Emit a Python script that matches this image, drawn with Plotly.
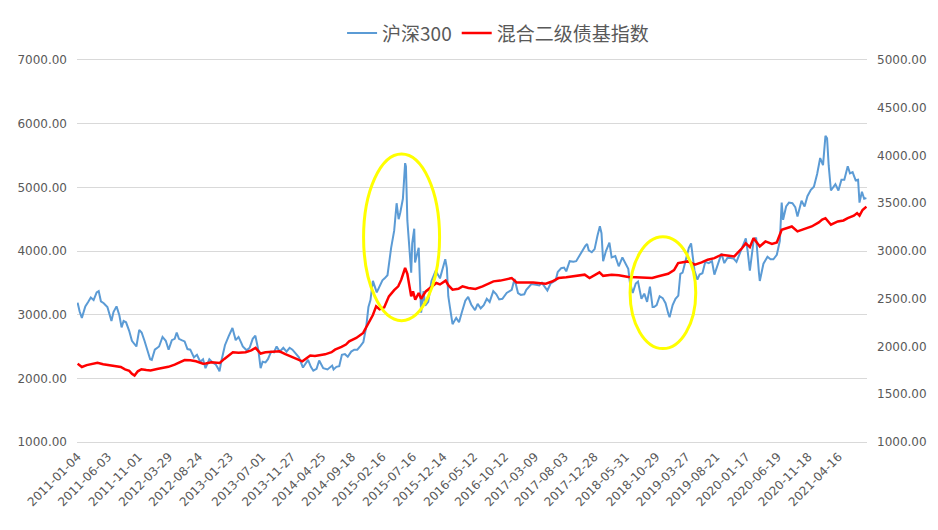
import plotly.graph_objects as go

# ---- data ----
hs300_dates = [
    "2011-01-04", "2011-01-14", "2011-01-25", "2011-02-11", "2011-02-25", "2011-03-10", "2011-03-24",
    "2011-04-08", "2011-04-18", "2011-04-29", "2011-05-13", "2011-05-31", "2011-06-20", "2011-06-30",
    "2011-07-15", "2011-07-29", "2011-08-09", "2011-08-19", "2011-08-31", "2011-09-15", "2011-09-29",
    "2011-10-21", "2011-11-04", "2011-11-16", "2011-11-30", "2011-12-15", "2011-12-28",
    "2012-01-05", "2012-01-20", "2012-02-10", "2012-02-27", "2012-03-14", "2012-03-28", "2012-04-13",
    "2012-04-27", "2012-05-07", "2012-05-18", "2012-05-31", "2012-06-15", "2012-06-29", "2012-07-13",
    "2012-07-31", "2012-08-15", "2012-08-31", "2012-09-14", "2012-09-26", "2012-10-15", "2012-10-31",
    "2012-11-15", "2012-11-30", "2012-12-04", "2012-12-14", "2012-12-31",
    "2013-01-18", "2013-02-06", "2013-02-22", "2013-03-08", "2013-03-21", "2013-03-29", "2013-04-17",
    "2013-05-02", "2013-05-17", "2013-05-30", "2013-06-14", "2013-06-25", "2013-07-05", "2013-07-19",
    "2013-07-31", "2013-08-16", "2013-08-30", "2013-09-12", "2013-09-27", "2013-10-15", "2013-10-31",
    "2013-11-15", "2013-11-29", "2013-12-13", "2013-12-31",
    "2014-01-20", "2014-02-14", "2014-02-28", "2014-03-12", "2014-03-28", "2014-04-10", "2014-04-30",
    "2014-05-21", "2014-06-13", "2014-06-20", "2014-07-04", "2014-07-18", "2014-07-31", "2014-08-15",
    "2014-08-29", "2014-09-15", "2014-09-30", "2014-10-15", "2014-10-31", "2014-11-14", "2014-11-28",
    "2014-12-09", "2014-12-19", "2014-12-31",
    "2015-01-19", "2015-01-30", "2015-02-16", "2015-02-27", "2015-03-13", "2015-03-31", "2015-04-15",
    "2015-04-27", "2015-05-07", "2015-05-15", "2015-05-28", "2015-06-08", "2015-06-12", "2015-06-19",
    "2015-06-26", "2015-07-08", "2015-07-13", "2015-07-23", "2015-07-27", "2015-08-05", "2015-08-14",
    "2015-08-26", "2015-09-07", "2015-09-15", "2015-09-30", "2015-10-16", "2015-11-06", "2015-11-27",
    "2015-12-23", "2015-12-31",
    "2016-01-07", "2016-01-15", "2016-01-28", "2016-02-15", "2016-02-29", "2016-03-15", "2016-03-31",
    "2016-04-14", "2016-04-29", "2016-05-18", "2016-05-31", "2016-06-15", "2016-06-30", "2016-07-15",
    "2016-07-29", "2016-08-16", "2016-08-31", "2016-09-14", "2016-09-30", "2016-10-21", "2016-11-15",
    "2016-11-29", "2016-12-16", "2016-12-30",
    "2017-01-16", "2017-01-26", "2017-02-20", "2017-03-15", "2017-03-31", "2017-04-13", "2017-04-28",
    "2017-05-10", "2017-05-26", "2017-06-20", "2017-06-30", "2017-07-17", "2017-07-31", "2017-08-11",
    "2017-08-28", "2017-09-15", "2017-09-29", "2017-10-16", "2017-10-31", "2017-11-13", "2017-11-22",
    "2017-11-30", "2017-12-15", "2017-12-29",
    "2018-01-12", "2018-01-24", "2018-02-01", "2018-02-09", "2018-02-23", "2018-03-12", "2018-03-23",
    "2018-04-10", "2018-04-27", "2018-05-15", "2018-05-31", "2018-06-13", "2018-06-21", "2018-07-05",
    "2018-07-20", "2018-07-31", "2018-08-17", "2018-08-31", "2018-09-14", "2018-09-28", "2018-10-11",
    "2018-10-18", "2018-10-31", "2018-11-15", "2018-11-30", "2018-12-14", "2018-12-28",
    "2019-01-03", "2019-01-18", "2019-02-01", "2019-02-15", "2019-02-25", "2019-03-08", "2019-03-22",
    "2019-04-08", "2019-04-19", "2019-05-06", "2019-05-20", "2019-05-31", "2019-06-14", "2019-06-28",
    "2019-07-15", "2019-07-31", "2019-08-12", "2019-08-30", "2019-09-16", "2019-09-30", "2019-10-15",
    "2019-10-31", "2019-11-15", "2019-11-29", "2019-12-13", "2019-12-31",
    "2020-01-14", "2020-01-23", "2020-02-03", "2020-02-21", "2020-03-05", "2020-03-19", "2020-03-23",
    "2020-04-10", "2020-04-30", "2020-05-15", "2020-05-29", "2020-06-15", "2020-06-30", "2020-07-09",
    "2020-07-16", "2020-07-31", "2020-08-14", "2020-08-31", "2020-09-14", "2020-09-25", "2020-10-15",
    "2020-10-30", "2020-11-13", "2020-11-30", "2020-12-15", "2020-12-31",
    "2021-01-15", "2021-01-29", "2021-02-10", "2021-02-18", "2021-02-26", "2021-03-09", "2021-03-19",
    "2021-03-31", "2021-04-15", "2021-04-30", "2021-05-14", "2021-05-31", "2021-06-11", "2021-06-24",
    "2021-07-09", "2021-07-21", "2021-07-28", "2021-08-09", "2021-08-20", "2021-08-31",
]
hs300_values = [
    3189, 3050, 2950, 3130, 3200, 3270, 3230,
    3350, 3370, 3210, 3180, 3120, 2900, 3040,
    3130, 2990, 2800, 2900, 2880, 2750, 2590,
    2500, 2760, 2720, 2590, 2420, 2300,
    2290, 2450, 2500, 2650, 2590, 2450, 2600,
    2620, 2720, 2620, 2600, 2580, 2460, 2450,
    2330, 2370, 2260, 2300, 2160, 2300, 2250,
    2220, 2140, 2110, 2280, 2520,
    2660, 2790, 2600, 2650, 2560, 2500, 2440,
    2480, 2620, 2670, 2440, 2160, 2260, 2250,
    2300, 2420, 2410, 2500, 2420, 2480, 2420,
    2480, 2450, 2400, 2330,
    2170, 2290, 2180, 2120, 2150, 2280, 2160,
    2140, 2200, 2140, 2180, 2190, 2370, 2380,
    2340, 2420, 2450, 2450, 2510, 2570, 2810,
    3120, 3230, 3530,
    3350, 3430, 3540, 3570, 3620, 4050, 4320,
    4750, 4500, 4600, 4820, 5380, 5330, 4480,
    4190, 3660, 4120, 4350, 3820, 3930, 4050,
    3030, 3370, 3140, 3200, 3530, 3690, 3570,
    3870, 3731,
    3290, 3120, 2850, 2950, 2880, 3050, 3220,
    3280, 3160, 3070, 3170, 3100, 3150, 3250,
    3200, 3370, 3320, 3240, 3250, 3340, 3390,
    3560, 3340, 3310,
    3320, 3390, 3480, 3470, 3460, 3500, 3440,
    3380, 3490, 3540, 3670, 3730, 3740, 3680,
    3840, 3830, 3840, 3940, 4010, 4080, 4110,
    4010, 3980, 4030,
    4240, 4390, 4280, 3840, 4000, 4130, 3900,
    3920, 3760, 3900, 3800, 3720, 3510, 3340,
    3490, 3520, 3250, 3330, 3200, 3440, 3120,
    3120, 3150, 3290, 3260, 3180, 3010,
    2960, 3150, 3250, 3300, 3640, 3660, 3830,
    4050, 4120, 3690, 3550, 3630, 3650, 3830,
    3810, 3840, 3630, 3800, 3960, 3810, 3890,
    3890, 3880, 3830, 3950, 4100,
    4200, 4000, 3690, 4150, 4210, 3650, 3530,
    3800, 3910, 3870, 3870, 3940, 4160, 4760,
    4490, 4700, 4760, 4750, 4690, 4540, 4790,
    4700, 4860, 4960, 5010, 5210,
    5460, 5350, 5810, 5770, 5340, 4950, 5000,
    5050, 4950, 5120, 5120, 5330, 5220, 5240,
    5110, 5120, 4760, 4930, 4820, 4830,
]

bond_dates = [
    "2011-01-04", "2011-01-14", "2011-01-25", "2011-02-18", "2011-03-15", "2011-04-12", "2011-05-10",
    "2011-06-10", "2011-07-08", "2011-08-05", "2011-08-26", "2011-09-16", "2011-09-29", "2011-10-12",
    "2011-10-28", "2011-11-15", "2011-12-09", "2011-12-30",
    "2012-01-31", "2012-02-28", "2012-03-27", "2012-04-27", "2012-05-25", "2012-06-15", "2012-07-13",
    "2012-08-10", "2012-09-14", "2012-09-27", "2012-10-25", "2012-11-20", "2012-12-05", "2012-12-28",
    "2013-01-18", "2013-02-08", "2013-03-08", "2013-04-12", "2013-05-10", "2013-05-31", "2013-06-25",
    "2013-07-19", "2013-08-23", "2013-09-26", "2013-10-25", "2013-11-22", "2013-12-10",
    "2014-01-03", "2014-01-17", "2014-02-25", "2014-03-20", "2014-04-18", "2014-05-09", "2014-06-10",
    "2014-06-27", "2014-07-29", "2014-08-20", "2014-09-05", "2014-10-10", "2014-11-13", "2014-12-12",
    "2014-12-31",
    "2015-01-16", "2015-02-02", "2015-02-25", "2015-03-20", "2015-04-15", "2015-05-05", "2015-05-20",
    "2015-06-08", "2015-06-19", "2015-07-08", "2015-07-17", "2015-07-28", "2015-08-14", "2015-08-26",
    "2015-09-18", "2015-10-16", "2015-11-09", "2015-11-27", "2015-12-25",
    "2016-01-08", "2016-01-28", "2016-02-26", "2016-03-17", "2016-04-15", "2016-05-20", "2016-06-24",
    "2016-07-22", "2016-08-17", "2016-09-20", "2016-10-21", "2016-11-15", "2016-12-09", "2016-12-30",
    "2017-01-26", "2017-03-01", "2017-04-07", "2017-05-02", "2017-06-02", "2017-07-04", "2017-08-11",
    "2017-09-25", "2017-11-10", "2017-12-04", "2017-12-28",
    "2018-01-22", "2018-02-09", "2018-03-23", "2018-04-27", "2018-06-14", "2018-07-20", "2018-08-24",
    "2018-10-09", "2018-11-09", "2018-12-27",
    "2019-01-25", "2019-02-14", "2019-04-03", "2019-05-08", "2019-06-10", "2019-07-10", "2019-08-12",
    "2019-09-16", "2019-10-23", "2019-11-18", "2019-12-27",
    "2020-01-14", "2020-02-03", "2020-02-21", "2020-03-23", "2020-04-20", "2020-05-22", "2020-06-15",
    "2020-07-09", "2020-07-31", "2020-08-28", "2020-09-25", "2020-10-30", "2020-12-04",
    "2021-01-08", "2021-01-25", "2021-02-10", "2021-02-26", "2021-03-09", "2021-04-12", "2021-05-10",
    "2021-05-31", "2021-06-30", "2021-07-16", "2021-07-28", "2021-08-12", "2021-08-31",
]
bond_values = [
    1820, 1800, 1785, 1805, 1815, 1830, 1815,
    1805, 1800, 1785, 1760, 1745, 1715, 1696,
    1740, 1762, 1755, 1750,
    1765, 1775, 1787, 1810, 1840, 1858, 1855,
    1845, 1820, 1822, 1835, 1830, 1828, 1870,
    1905, 1939, 1935, 1940, 1960, 1985, 1926,
    1940, 1945, 1950, 1920, 1895, 1875,
    1850, 1845, 1905, 1900, 1912, 1918, 1940,
    1967, 1996, 2020, 2054, 2090, 2142, 2263,
    2330,
    2420, 2390, 2410, 2525, 2590, 2630, 2700,
    2822, 2760, 2525, 2577, 2490, 2560, 2500,
    2577, 2620, 2665, 2650, 2690,
    2640, 2595, 2605, 2630, 2613, 2602, 2630,
    2660, 2682, 2690, 2705, 2717, 2671, 2668,
    2670, 2671, 2662, 2658, 2680, 2717, 2725,
    2741, 2752, 2717, 2745,
    2776, 2740, 2752, 2745, 2728, 2725, 2720,
    2717, 2735, 2762,
    2800, 2874, 2891, 2856, 2880, 2909, 2925,
    2961, 2950, 2943, 3031,
    3080, 3040, 3135, 3048, 3100, 3075, 3090,
    3222, 3240, 3257, 3205, 3230, 3257,
    3300, 3330, 3344, 3300, 3275, 3309, 3320,
    3344, 3370, 3397, 3370, 3430, 3465,
]

tick_dates = [
    "2011-01-04", "2011-06-03", "2011-11-01", "2012-03-29", "2012-08-24", "2013-01-23",
    "2013-07-01", "2013-11-27", "2014-04-25", "2014-09-18", "2015-02-16", "2015-07-16",
    "2015-12-14", "2016-05-12", "2016-10-12", "2017-03-09", "2017-08-03", "2017-12-28",
    "2018-05-31", "2018-10-29", "2019-03-27", "2019-08-21", "2020-01-17", "2020-06-19",
    "2020-11-18", "2021-04-16",
]

grey = "#595959"
grid = "#D9D9D9"
tick_font = dict(family="DejaVu Sans", size=12, color=grey)

fig = go.Figure()

fig.add_trace(go.Scatter(
    x=hs300_dates, y=hs300_values, mode="lines", name="沪深300",
    line=dict(color="#5B9BD5", width=2),
))
fig.add_trace(go.Scatter(
    x=bond_dates, y=bond_values, mode="lines", name="混合二级债基指数",
    line=dict(color="#FF0000", width=2.5), yaxis="y2",
))

# yellow highlight ellipses
fig.add_shape(type="circle", xref="x", yref="y",
              x0="2014-11-15", x1="2015-11-25", y0=2906, y1=5525,
              line=dict(color="#FFFF00", width=3))
fig.add_shape(type="circle", xref="x", yref="y",
              x0="2018-06-22", x1="2019-05-12", y0=2467, y1=4224,
              line=dict(color="#FFFF00", width=3))

# page body has an 8px margin, so the figure is 8px smaller and margins shifted
fig.update_layout(
    width=930, height=522,
    margin=dict(l=69, r=71, t=52, b=88, autoexpand=False),
    paper_bgcolor="white", plot_bgcolor="white",
    showlegend=True,
    legend=dict(
        orientation="h", x=0.533, xanchor="center", y=1.07, yanchor="middle",
        font=dict(family="Noto Sans CJK SC", size=19, color=grey),
        itemwidth=30, tracegroupgap=0,
    ),
    xaxis=dict(
        type="date", range=["2011-01-01", "2021-09-03"],
        tickvals=tick_dates, ticktext=tick_dates, tickangle=-45,
        tickfont=tick_font, showgrid=False, ticks="",
        showline=True, mirror=True, linecolor=grid, linewidth=1,
        ticklabelstandoff=2, automargin=False,
    ),
    yaxis=dict(
        range=[1000, 7000], dtick=1000, tickformat=".2f",
        tickfont=tick_font, showgrid=True, gridcolor=grid, gridwidth=1,
        zeroline=False, showline=False, ticklabelstandoff=9, automargin=False,
    ),
    yaxis2=dict(
        range=[1000, 5000], dtick=500, tickformat=".2f", overlaying="y", side="right",
        tickfont=tick_font, showgrid=False, zeroline=False, showline=False,
        ticklabelstandoff=9, automargin=False,
    ),
)

fig.write_html("out.html")
